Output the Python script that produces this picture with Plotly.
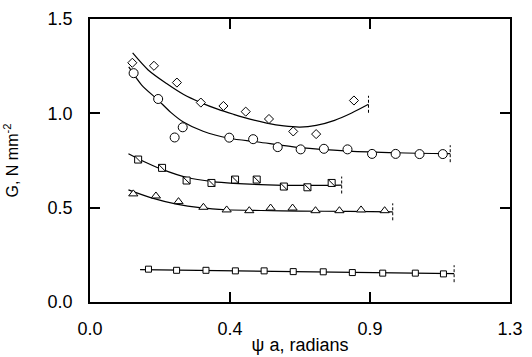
import plotly.graph_objects as go

# ---- data ----
diam_x = [0.131, 0.198, 0.269, 0.343, 0.413, 0.482, 0.554, 0.629, 0.700, 0.817]
diam_y = [1.268, 1.252, 1.163, 1.057, 1.039, 1.009, 0.970, 0.904, 0.890, 1.068]
fit1_x = [0.132, 0.180, 0.237, 0.290, 0.343, 0.395, 0.444, 0.495, 0.547, 0.600, 0.650, 0.700, 0.757, 0.810, 0.862]
fit1_y = [1.320, 1.230, 1.158, 1.100, 1.057, 1.022, 0.995, 0.969, 0.948, 0.933, 0.927, 0.936, 0.963, 1.002, 1.048]

circ_x = [0.135, 0.211, 0.287, 0.262, 0.431, 0.505, 0.581, 0.652, 0.724, 0.797, 0.873, 0.946, 1.020, 1.092]
circ_y = [1.213, 1.076, 0.926, 0.872, 0.871, 0.863, 0.821, 0.809, 0.812, 0.809, 0.785, 0.785, 0.784, 0.784]
fit2_x = [0.120, 0.160, 0.211, 0.250, 0.289, 0.350, 0.431, 0.520, 0.650, 0.800, 0.950, 1.115]
fit2_y = [1.246, 1.150, 1.070, 1.005, 0.954, 0.905, 0.868, 0.848, 0.818, 0.800, 0.791, 0.786]

slsq_x = [0.149, 0.223, 0.299, 0.376, 0.449, 0.516, 0.600, 0.673, 0.748]
slsq_y = [0.755, 0.711, 0.644, 0.631, 0.649, 0.649, 0.612, 0.608, 0.631]
fit3_x = [0.119, 0.170, 0.223, 0.300, 0.380, 0.444, 0.550, 0.650, 0.779]
fit3_y = [0.786, 0.742, 0.703, 0.660, 0.638, 0.629, 0.621, 0.618, 0.620]

tri_x = [0.134, 0.204, 0.274, 0.351, 0.423, 0.493, 0.559, 0.627, 0.698, 0.772, 0.839, 0.912]
tri_y = [0.573, 0.562, 0.532, 0.502, 0.488, 0.484, 0.498, 0.498, 0.484, 0.484, 0.488, 0.484]
fit4_x = [0.119, 0.190, 0.268, 0.340, 0.423, 0.530, 0.650, 0.800, 0.937]
fit4_y = [0.594, 0.552, 0.519, 0.500, 0.489, 0.485, 0.482, 0.480, 0.478]

sq_x = [0.181, 0.268, 0.359, 0.450, 0.539, 0.629, 0.722, 0.812, 0.906, 1.007, 1.094]
sq_y = [0.174, 0.168, 0.168, 0.165, 0.165, 0.161, 0.160, 0.156, 0.153, 0.153, 0.149]
fit5_x = [0.155, 1.127]
fit5_y = [0.172, 0.150]

x_tickvals = [0.0, 1.3 / 3, 2.6 / 3, 1.3]
x_ticktext = ["0.0", "0.4", "0.9", "1.3"]
y_tickvals = [0.0, 0.5, 1.0, 1.5]
y_ticktext = ["0.0", "0.5", "1.0", "1.5"]

END_HALF = 0.045

fig = go.Figure()

fits = [(fit1_x, fit1_y), (fit2_x, fit2_y), (fit3_x, fit3_y), (fit4_x, fit4_y), (fit5_x, fit5_y)]
for fx, fy in fits:
    fig.add_trace(go.Scatter(x=fx, y=fy, mode="lines",
                             line=dict(color="black", width=1.2, shape="spline", smoothing=0.8),
                             hoverinfo="skip", showlegend=False))
    fig.add_trace(go.Scatter(x=[fx[-1], fx[-1]], y=[fy[-1] - END_HALF, fy[-1] + END_HALF], mode="lines",
                             line=dict(color="black", width=1, dash="3px,2px"), hoverinfo="skip", showlegend=False))

mk = dict(color="white", line=dict(color="black", width=1))
fig.add_trace(go.Scatter(x=diam_x, y=diam_y, mode="markers", showlegend=False,
                         marker=dict(symbol="diamond", size=7, **mk)))
fig.add_trace(go.Scatter(x=circ_x, y=circ_y, mode="markers", showlegend=False,
                         marker=dict(symbol="circle", size=9, **mk)))
fig.add_trace(go.Scatter(x=slsq_x, y=slsq_y, mode="markers", showlegend=False,
                         marker=dict(symbol="square", size=7, **mk)))
fig.add_trace(go.Scatter(x=slsq_x, y=slsq_y, mode="markers", showlegend=False,
                         marker=dict(symbol="line-nw", size=7, line=dict(color="black", width=1))))
fig.add_trace(go.Scatter(x=tri_x, y=tri_y, mode="markers", showlegend=False,
                         marker=dict(symbol="triangle-up", size=8, **mk)))
fig.add_trace(go.Scatter(x=sq_x, y=sq_y, mode="markers", showlegend=False,
                         marker=dict(symbol="square", size=6, **mk)))

TICKFONT = dict(family="Liberation Sans, Arial, sans-serif", size=18, color="black")
XTFONT = dict(family="Liberation Sans, Arial, sans-serif", size=18, color="black")
YTFONT = dict(family="Liberation Sans, Arial, sans-serif", size=16, color="black")
axis_common = dict(showline=True, linecolor="black", linewidth=1.5, mirror="allticks", ticks="inside",
                   ticklen=10, tickwidth=1.5, tickcolor="black", showgrid=False, zeroline=False,
                   tickfont=TICKFONT, automargin=False)

fig.update_layout(
    width=532, height=357,
    margin=dict(l=90, r=22, t=19, b=55),
    paper_bgcolor="white", plot_bgcolor="white",
    font=dict(family="Liberation Sans, Arial, sans-serif", size=16, color="black"),
    xaxis=dict(range=[0, 1.3], tickmode="array", tickvals=x_tickvals, ticktext=x_ticktext,
               ticklabelstandoff=10, title=dict(text="ψ a, radians", font=XTFONT, standoff=0), **axis_common),
    yaxis=dict(range=[0, 1.5], tickmode="array", tickvals=y_tickvals, ticktext=y_ticktext,
               ticklabelstandoff=12, title=dict(text="G, N mm<sup>-2</sup>", font=YTFONT, standoff=25), **axis_common),
)

fig.write_html("out.html")
